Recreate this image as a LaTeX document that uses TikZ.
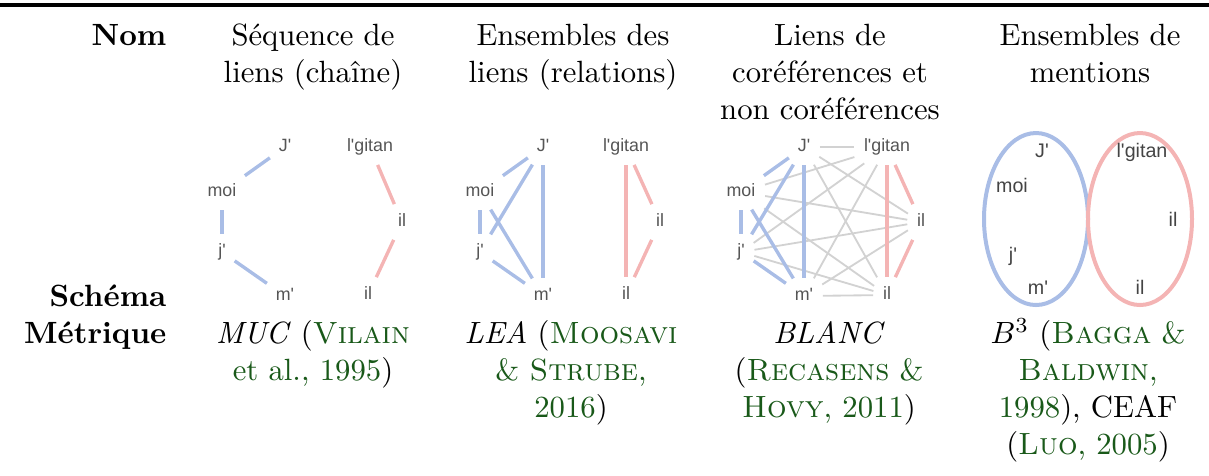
\documentclass[tikz,border=0pt]{standalone}
\usepackage{fontspec}
\usepackage{xcolor}
\usepackage{tikz}
\usetikzlibrary{positioning}

\newfontfamily\schemafont{Liberation Sans}
\definecolor{citegreen}{rgb}{0.1,0.35,0.1}
\definecolor{corefblue}{HTML}{A9BDE6}
\definecolor{corefpink}{HTML}{F4B4B4}
\definecolor{noncoref}{HTML}{D2D2D2}
\definecolor{mentiongray}{HTML}{555555}
\newcommand{\cg}[1]{\textcolor{citegreen}{#1}}

\begin{document}
\begin{tikzpicture}[
    x=0.3255pt, y=-0.3255pt,
    head/.style={align=center, anchor=base, inner sep=0pt},
    rowname/.style={anchor=base east, inner sep=0pt, font=\bfseries},
    mention/.style={rectangle, inner sep=1.5pt, text height=4.3pt, text depth=1.2pt,
        font=\schemafont\fontsize{5.8}{7}\selectfont, text=mentiongray},
    big mention/.style={mention, font=\schemafont\fontsize{6.4}{7.5}\selectfont, text=mentiongray!80!black},
    link/.style={line width=1.1pt, shorten >=1.5pt, shorten <=1.5pt},
    blue link/.style={link, draw=corefblue},
    pink link/.style={link, draw=corefpink},
    gray link/.style={line width=0.6pt, draw=noncoref, shorten >=1.5pt, shorten <=1.5pt},
    mentionset/.style={line width=1.3pt}
]
\useasboundingbox (0,0) rectangle (1209,475);

% top rule
\draw[line width=1pt] (0,5) -- (1209,5);

% Nom row (base = baseline of the last line)
\node[rowname] (nom) at (167,45) {Nom};
\node[head] (nom1) at (313,82) {Séquence de\\liens (chaîne)};
\node[head] (nom2) at (573,82) {Ensembles des\\liens (relations)};
\node[head] (nom3) at (830,119) {Liens de\\coréférences et\\non coréférences};
\node[head] (nom4) at (1090,82) {Ensembles de\\mentions};

% Schema: chain of links (MUC)
\node[mention] (aJ) at (285,147) {J'};
\node[mention] (amoi) at (222,192) {moi};
\node[mention] (aj) at (222,252) {j'};
\node[mention] (am) at (285,296) {m'};
\node[mention] (agitan) at (370,147) {l'gitan};
\node[mention] (ail) at (402,222) {il};
\node[mention] (ailb) at (368,295) {il};
\draw[blue link] (amoi) -- (aJ);
\draw[blue link] (amoi) -- (aj);
\draw[blue link] (aj) -- (am);
\draw[pink link] (agitan) -- (ail);
\draw[pink link] (ail) -- (ailb);

% Schema: sets of links (LEA)
\node[mention] (bJ) at (543,147) {J'};
\node[mention] (bmoi) at (480,192) {moi};
\node[mention] (bj) at (480,252) {j'};
\node[mention] (bm) at (543,296) {m'};
\node[mention] (bgitan) at (626,147) {l'gitan};
\node[mention] (bil) at (660,222) {il};
\node[mention] (bilb) at (626,295) {il};
\draw[blue link] (bmoi) -- (bJ);
\draw[blue link] (bmoi) -- (bj);
\draw[blue link] (bj) -- (bm);
\draw[blue link] (bJ) -- (bj);
\draw[blue link] (bmoi) -- (bm);
\draw[blue link] (bJ) -- (bm);
\draw[pink link] (bgitan) -- (bil);
\draw[pink link] (bil) -- (bilb);
\draw[pink link] (bgitan) -- (bilb);

% Schema: coreference and non-coreference links (BLANC)
\node[mention] (cJ) at (804,147) {J'};
\node[mention] (cmoi) at (741,192) {moi};
\node[mention] (cj) at (741,252) {j'};
\node[mention] (cm) at (804,296) {m'};
\node[mention] (cgitan) at (887,147) {l'gitan};
\node[mention] (cil) at (921,222) {il};
\node[mention] (cilb) at (887,295) {il};
\draw[gray link] (cJ) -- (cgitan);
\draw[gray link] (cJ) -- (cil);
\draw[gray link] (cJ) -- (cilb);
\draw[gray link] (cmoi) -- (cgitan);
\draw[gray link] (cmoi) -- (cil);
\draw[gray link] (cmoi) -- (cilb);
\draw[gray link] (cj) -- (cgitan);
\draw[gray link] (cj) -- (cil);
\draw[gray link] (cj) -- (cilb);
\draw[gray link] (cm) -- (cgitan);
\draw[gray link] (cm) -- (cil);
\draw[gray link] (cm) -- (cilb);
\draw[blue link] (cmoi) -- (cJ);
\draw[blue link] (cmoi) -- (cj);
\draw[blue link] (cj) -- (cm);
\draw[blue link] (cJ) -- (cj);
\draw[blue link] (cmoi) -- (cm);
\draw[blue link] (cJ) -- (cm);
\draw[pink link] (cgitan) -- (cil);
\draw[pink link] (cil) -- (cilb);
\draw[pink link] (cgitan) -- (cilb);

% Schema: sets of mentions (B3, CEAF)
\draw[mentionset, draw=corefblue] (1036,219) ellipse [x radius=52, y radius=86];
\draw[mentionset, draw=corefpink] (1140,219) ellipse [x radius=52, y radius=86];
\node[big mention] (dJ) at (1042,153) {J'};
\node[big mention] (dmoi) at (1012,188) {moi};
\node[big mention] (dj) at (1013,257) {j'};
\node[big mention] (dm) at (1038,290) {m'};
\node[big mention] (dgitan) at (1142,153) {l'gitan};
\node[big mention] (dil) at (1173,222) {il};
\node[big mention] (dilb) at (1140,290) {il};

% Schema / Metrique rows
\node[rowname] (schema) at (167,306) {Schéma};
\node[rowname] (metrique) at (167,343) {Métrique};
\node[head] (met1) at (313,380) {\emph{MUC} (\cg{\textsc{Vilain}}\\\cg{et al., 1995})};
\node[head] (met2) at (571,417) {\emph{LEA} (\cg{\textsc{Moosavi}}\\\cg{\& \textsc{Strube},}\\\cg{2016})};
\node[head] (met3) at (829,417) {\emph{BLANC}\\(\cg{\textsc{Recasens} \&}\\\cg{\textsc{Hovy}, 2011})};
\node[head] (met4) at (1088,454) {$B^3$ (\cg{\textsc{Bagga} \&}\\\cg{\textsc{Baldwin},}\\\cg{1998}), CEAF\\(\cg{\textsc{Luo}, 2005})};

\end{tikzpicture}
\end{document}
